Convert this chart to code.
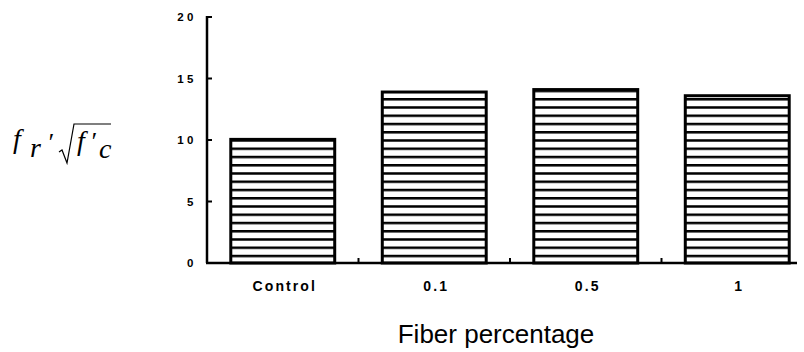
<!DOCTYPE html>
<html>
<head>
<meta charset="utf-8">
<script src="https://cdn.jsdelivr.net/npm/d3@7"></script>
<style>
  html, body { margin: 0; padding: 0; background: #fff; }
  svg { display: block; }
</style>
</head>
<body>
<script>
// chart data
const categories = ["Control", "0.1", "0.5", "1"];
const ratioValues = [10.05, 13.9, 14.1, 13.6];
const yTicks = [0, 5, 10, 15, 20];
const xTitle = "Fiber percentage";
// ----------

const w = 804;
const h = 352;
const p = { t: 17, r: -9, b: 89, l: 207 };

const svg = d3
  .select("body")
  .append("svg")
  .attr("width", w)
  .attr("height", h);

// scales
const x = d3
  .scaleBand()
  .domain(categories)
  .range([p.l, w - p.r])
  .paddingInner(0.314)
  .paddingOuter(0.157);

const y = d3
  .scaleLinear()
  .domain([0, 20])
  .range([h - p.b, p.t]);
// ----------

// stripe pattern (anchored to baseline)
const period = 8.25;
const defs = svg.append("defs");
const pat = defs
  .append("pattern")
  .attr("id", "stripes")
  .attr("patternUnits", "userSpaceOnUse")
  .attr("x", 0)
  .attr("y", y(0) % period)
  .attr("width", 10)
  .attr("height", period);
pat.append("rect").attr("width", 10).attr("height", period).attr("fill", "#fff");
pat
  .append("rect")
  .attr("y", 0)
  .attr("width", 10)
  .attr("height", 2.5)
  .attr("fill", "#000");
// ----------

// bars
svg
  .append("g")
  .selectAll("rect")
  .data(categories)
  .enter()
  .append("rect")
  .attr("x", (d) => x(d))
  .attr("y", (d, i) => y(ratioValues[i]))
  .attr("width", x.bandwidth())
  .attr("height", (d, i) => y(0) - y(ratioValues[i]))
  .attr("fill", "url(#stripes)")
  .attr("stroke", "#000")
  .attr("stroke-width", 3);
// ----------

// y axis (ticks inward)
const yAxis = svg.append("g");
yAxis
  .append("line")
  .attr("x1", p.l)
  .attr("x2", p.l)
  .attr("y1", y(20) - 1)
  .attr("y2", y(0))
  .attr("stroke", "#000")
  .attr("stroke-width", 2.5);
yAxis
  .selectAll(".tk")
  .data(yTicks.filter((d) => d > 0))
  .enter()
  .append("line")
  .attr("x1", p.l)
  .attr("x2", p.l + 5)
  .attr("y1", (d) => y(d))
  .attr("y2", (d) => y(d))
  .attr("stroke", "#000")
  .attr("stroke-width", 2);
yAxis
  .selectAll("text")
  .data(yTicks)
  .enter()
  .append("text")
  .text((d) => d)
  .attr("x", 197)
  .attr("y", (d) => y(d) + 4)
  .attr("text-anchor", "end")
  .attr("font-family", "Liberation Sans, Arial, sans-serif")
  .attr("font-weight", "bold")
  .attr("font-size", 11.5)
  .attr("letter-spacing", 3.5);
// ----------

// x axis baseline + ticks between bars
const xAxis = svg.append("g");
xAxis
  .append("line")
  .attr("x1", p.l - 1)
  .attr("x2", 797)
  .attr("y1", y(0))
  .attr("y2", y(0))
  .attr("stroke", "#000")
  .attr("stroke-width", 2.5);
const gap = (x.step() * x.paddingInner()) / 2;
xAxis
  .selectAll(".tk")
  .data(categories.slice(1))
  .enter()
  .append("line")
  .attr("x1", (d) => x(d) - gap)
  .attr("x2", (d) => x(d) - gap)
  .attr("y1", y(0))
  .attr("y2", y(0) - 5)
  .attr("stroke", "#000")
  .attr("stroke-width", 2);
xAxis
  .selectAll("text")
  .data(categories)
  .enter()
  .append("text")
  .text((d) => d)
  .attr("x", (d) => x(d) + x.bandwidth() / 2 + 2)
  .attr("y", 290.5)
  .attr("text-anchor", "middle")
  .attr("font-family", "Liberation Sans, Arial, sans-serif")
  .attr("font-weight", "bold")
  .attr("font-size", 14)
  .attr("letter-spacing", 2.1);
// ----------

// axis title
svg
  .append("text")
  .text(xTitle)
  .attr("x", 496)
  .attr("y", 343)
  .attr("text-anchor", "middle")
  .attr("font-family", "Liberation Sans, Arial, sans-serif")
  .attr("font-size", 26);
// ----------

// y label  f_r / sqrt(f'_c)
const lab = svg
  .append("g")
  .attr("font-family", "Liberation Serif, Times New Roman, serif")
  .attr("font-style", "italic")
  .attr("fill", "#000");
lab.append("text").text("f").attr("x", 13).attr("y", 148).attr("font-size", 28);
lab.append("text").text("r").attr("x", 30).attr("y", 157).attr("font-size", 28);
lab.append("text").text("\u2032").attr("x", 47).attr("y", 151).attr("font-size", 26);
// radical sign
lab
  .append("path")
  .attr("d", "M59,152 L62,150 L67,163 L74,124 L111,124")
  .attr("fill", "none")
  .attr("stroke", "#000")
  .attr("stroke-width", 1.2);
lab.append("text").text("f").attr("x", 77).attr("y", 150).attr("font-size", 28);
lab.append("text").text("\u2032").attr("x", 90).attr("y", 150).attr("font-size", 26);
lab.append("text").text("c").attr("x", 99).attr("y", 158).attr("font-size", 28);
// ----------
</script>
</body>
</html>
